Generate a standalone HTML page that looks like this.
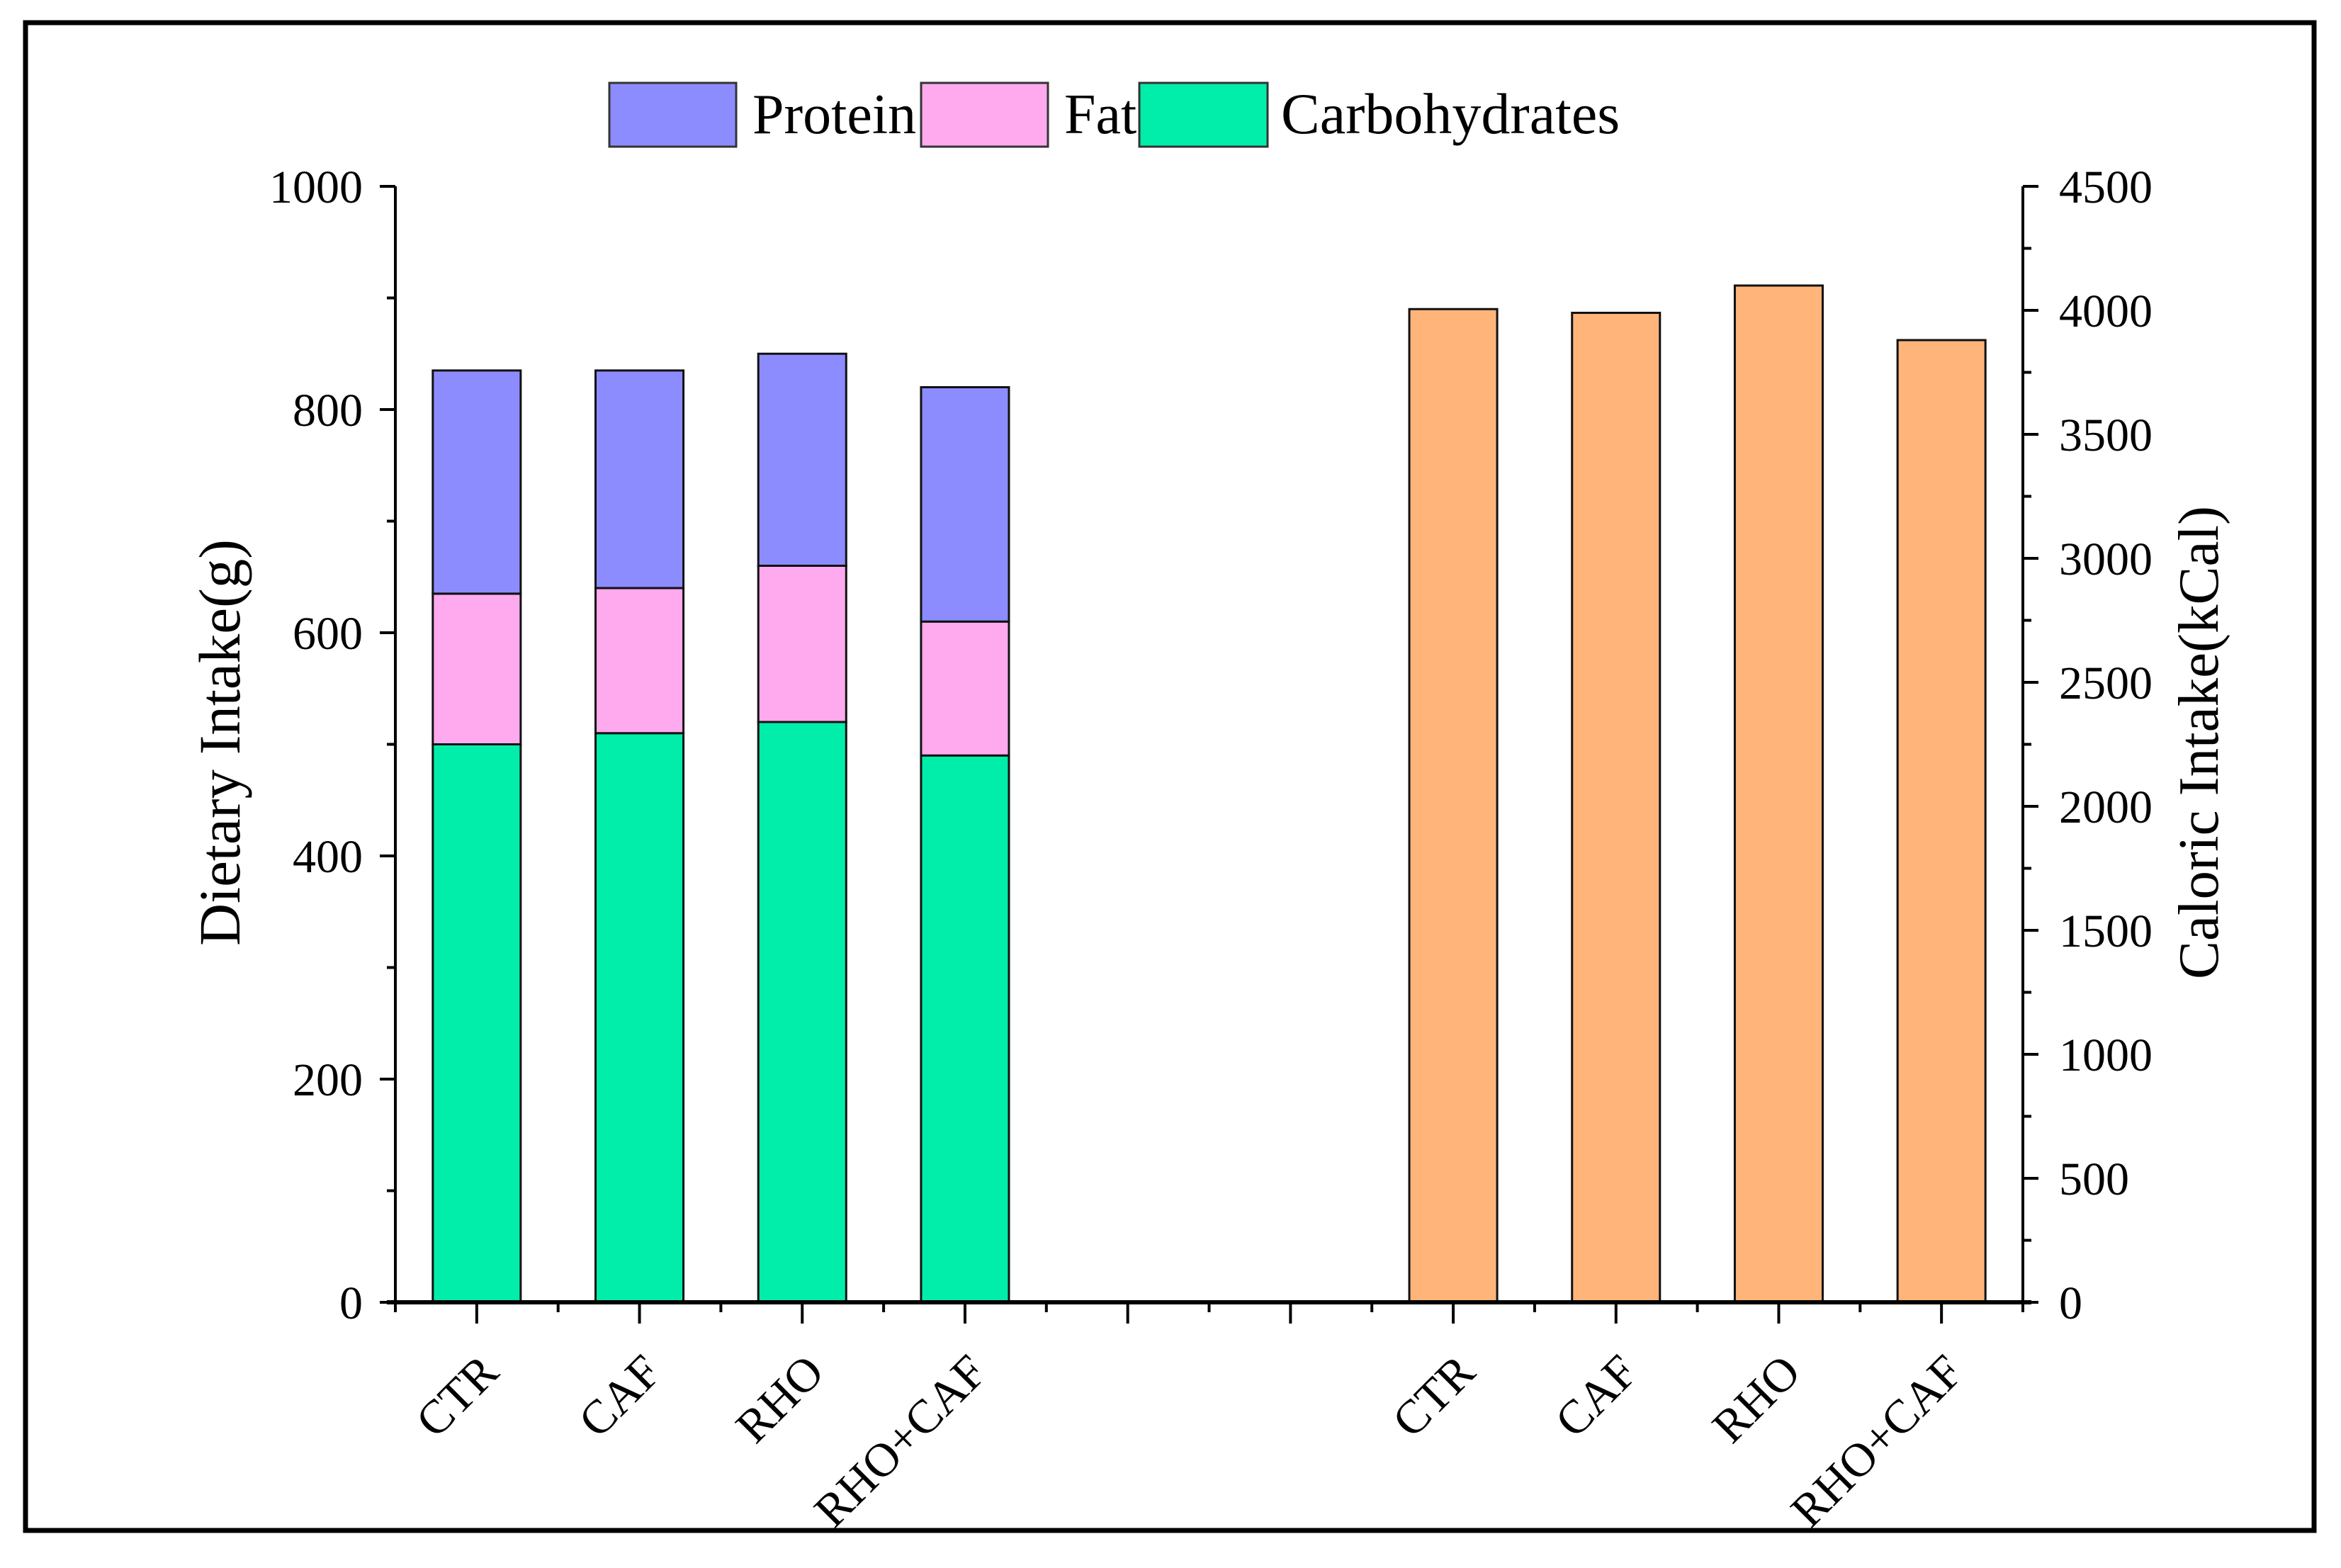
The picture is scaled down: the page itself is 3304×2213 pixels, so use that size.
<!DOCTYPE html>
<html><head><meta charset="utf-8"><style>
html,body{margin:0;padding:0;background:#fff;}
svg{display:block;font-family:"Liberation Serif",serif;}
</style></head><body>
<svg id="chart" width="3304" height="2213" viewBox="0 0 3304 2213">
<rect x="36" y="32" width="3230" height="2128" fill="none" stroke="#000" stroke-width="7"/>
<g id="legend">
 <g><rect x="860" y="117" width="179" height="90" fill="#8c8cff" stroke="#333" stroke-width="3"/><text x="1062" y="188" font-size="80">Protein</text></g>
 <g><rect x="1300" y="117" width="179" height="90" fill="#ffaaee" stroke="#333" stroke-width="3"/><text x="1502" y="188" font-size="80">Fat</text></g>
 <g><rect x="1608" y="117" width="181" height="90" fill="#00eeaa" stroke="#333" stroke-width="3"/><text x="1808" y="188" font-size="82">Carbohydrates</text></g>
</g>
<g id="plot"></g>
<text x="338" y="1048" font-size="83" text-anchor="middle" transform="rotate(-90 338 1048)">Dietary Intake(g)</text>
<text x="3130" y="1048" font-size="81" text-anchor="middle" transform="rotate(-90 3130 1048)">Caloric Intake(kCal)</text>
</svg>
<script>
const groups = ["CTR","CAF","RHO","RHO+CAF"];
const carbs = [500,510,520,490];
const fat = [135,130,140,120];
const protein = [200,195,190,210];
const calories = [4005,3990,4100,3880];
const leftTicks = [0,200,400,600,800,1000];
const rightTicks = [0,500,1000,1500,2000,2500,3000,3500,4000,4500];

const NS="http://www.w3.org/2000/svg";
const plot=document.getElementById('plot');
const X0=558, X1=2855, Y0=1838, Y1=263;
const slot=(X1-X0)/10;
const xPos=i=>X0+(i+0.5)*slot;
const yL=v=>Y0-(v/1000)*(Y0-Y1);
const yR=v=>Y0-(v/4500)*(Y0-Y1);
const bw=slot*0.54;
function mk(tag,attrs,parent){const e=document.createElementNS(NS,tag);for(const k in attrs)e.setAttribute(k,attrs[k]);(parent||plot).appendChild(e);return e;}

groups.forEach((g,i)=>{
  const x=xPos(i)-bw/2;
  let base=0;
  [[carbs[i],'#00eeaa','carbohydrates'],[fat[i],'#ffaaee','fat'],[protein[i],'#8c8cff','protein']].forEach(([v,c,n])=>{
    const r=mk('rect',{x:x,y:yL(base+v),width:bw,height:yL(base)-yL(base+v),fill:c,stroke:'#111','stroke-width':3});
    
    
    base+=v;
  });
});
groups.forEach((g,i)=>{
  const x=xPos(i+6)-bw/2;
  const r=mk('rect',{x:x,y:yR(calories[i]),width:bw,height:Y0-yR(calories[i]),fill:'#ffb47a',stroke:'#111','stroke-width':3});
  
  
});
mk('line',{x1:X0,y1:Y1,x2:X0,y2:Y0,stroke:'#000','stroke-width':4});
mk('line',{x1:X1,y1:Y1,x2:X1,y2:Y0,stroke:'#000','stroke-width':4});
mk('line',{x1:X0-12,y1:Y0,x2:X1+12,y2:Y0,stroke:'#000','stroke-width':6});
for(let v=0;v<=1000;v+=100){const maj=v%200===0;mk('line',{x1:X0,y1:yL(v),x2:X0-(maj?22:12),y2:yL(v),stroke:'#000','stroke-width':4});}
leftTicks.forEach(v=>{const t=mk('text',{x:512,y:yL(v)+23,'font-size':66,'text-anchor':'end'});t.textContent=v;

});
for(let v=0;v<=4500;v+=250){const maj=v%500===0;mk('line',{x1:X1,y1:yR(v),x2:X1+(maj?22:12),y2:yR(v),stroke:'#000','stroke-width':4});}
rightTicks.forEach(v=>{const t=mk('text',{x:2906,y:yR(v)+23,'font-size':66,'text-anchor':'start'});t.textContent=v;

});
for(let i=0;i<=10;i++){mk('line',{x1:X0+i*slot,y1:Y0,x2:X0+i*slot,y2:Y0+14,stroke:'#000','stroke-width':4});}
for(let i=0;i<10;i++){mk('line',{x1:xPos(i),y1:Y0,x2:xPos(i),y2:Y0+30,stroke:'#000','stroke-width':4});}
[0,1,2,3,6,7,8,9].forEach(i=>{
  const g=groups[i<4?i:i-6];
  const x=xPos(i)+34, y=1940;
  const t=mk('text',{x:x,y:y,'font-size':67,'text-anchor':'end',transform:`rotate(-45 ${x} ${y})`});
  t.textContent=g;
  
  
});
</script>
</body></html>
